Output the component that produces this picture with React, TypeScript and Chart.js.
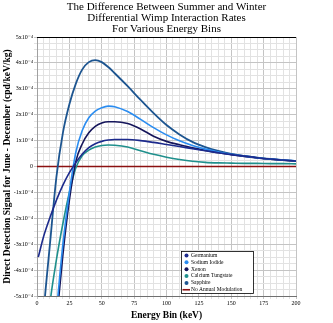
import React, { useEffect, useRef } from "react";
import { Chart, registerables } from "chart.js";

Chart.register(...registerables);

// Energy bins (keV)
const ENERGY = [1, 5, 10, 15, 20, 25, 30, 35, 40, 45, 50, 55, 60, 70, 80, 90, 100, 110, 120, 130, 140, 150, 160, 170, 180, 190, 200];

// Signal values in units of 1x10^-4 cpd/keV/kg
const GERMANIUM = [-3.5, -2.72, -1.97, -1.3, -0.72, -0.24, 0.15, 0.48, 0.73, 0.88, 0.97, 1.02, 1.04, 1.04, 1.0, 0.93, 0.85, 0.77, 0.69, 0.61, 0.53, 0.46, 0.4, 0.34, 0.29, 0.25, 0.21];
const SODIUM_IODIDE = [-14, -11, -8, -5.6, -3.0, -1.0, 0.55, 1.4, 1.88, 2.14, 2.27, 2.33, 2.31, 2.12, 1.82, 1.5, 1.22, 0.99, 0.81, 0.67, 0.56, 0.47, 0.4, 0.34, 0.29, 0.25, 0.22];
const XENON = [-16, -12.5, -9, -6.0, -3.4, -1.3, 0.2, 0.88, 1.3, 1.55, 1.68, 1.73, 1.73, 1.66, 1.45, 1.17, 0.97, 0.84, 0.72, 0.62, 0.53, 0.46, 0.39, 0.33, 0.28, 0.24, 0.2];
const CALCIUM_TUNGSTATE = [-10, -8, -5.3, -3.6, -2.2, -1.0, -0.05, 0.42, 0.63, 0.75, 0.81, 0.83, 0.82, 0.75, 0.61, 0.47, 0.36, 0.27, 0.2, 0.16, 0.14, 0.13, 0.12, 0.12, 0.11, 0.11, 0.1];
const SAPPHIRE = [-8.5, -5.7, -3.0, -0.4, 1.3, 2.4, 3.2, 3.75, 4.03, 4.11, 4.03, 3.84, 3.6, 3.1, 2.57, 2.06, 1.6, 1.24, 0.95, 0.75, 0.6, 0.49, 0.41, 0.34, 0.29, 0.25, 0.22];
const BASELINE_X = [0, 200];
const BASELINE_Y = [0, 0];

const X_TICK_LABELS = [0, 25, 50, 75, 100, 125, 150, 175, 200];
const Y_TICK_LABELS = [-5, -4, -3, -2, -1, 0, 1, 2, 3, 4, 5];

const SERIES = [
  { label: "Germanium", values: GERMANIUM, color: "#1c2a8c", width: 1.6 },
  { label: "Sodium Iodide", values: SODIUM_IODIDE, color: "#2a8cf0", width: 1.6 },
  { label: "Xenon", values: XENON, color: "#15155a", width: 1.6 },
  { label: "Calcium Tungstate", values: CALCIUM_TUNGSTATE, color: "#1f8f8c", width: 1.6 },
  { label: "Sapphire", values: SAPPHIRE, color: "#1d5590", width: 1.8 },
];

const SERIF = "'Liberation Serif', 'DejaVu Serif', serif";
const SUP = "x10\u207B\u2074";

function isNear(v: number, list: number[]) {
  return list.some((t) => Math.abs(t - v) < 1e-6);
}

const innerLegend = {
  id: "innerLegend",
  afterDraw(chart: any) {
    const { ctx, chartArea } = chart;
    const left = chartArea.right - 115;
    const top = chartArea.bottom - 45;
    const w = 72;
    const h = 42;
    ctx.save();
    ctx.fillStyle = "#ffffff";
    ctx.fillRect(left, top, w, h);
    ctx.strokeStyle = "#000000";
    ctx.lineWidth = 0.8;
    ctx.strokeRect(left + 0.5, top + 0.5, w, h);
    ctx.font = `5.5px ${SERIF}`;
    ctx.textBaseline = "middle";
    ctx.fillStyle = "#000";
    const ds = chart.data.datasets;
    ds.forEach((d: any, i: number) => {
      const y = top + 4.5 + i * 6.85;
      if (d.isLine) {
        ctx.strokeStyle = d.borderColor;
        ctx.lineWidth = 1.6;
        ctx.beginPath();
        ctx.moveTo(left + 1.5, y);
        ctx.lineTo(left + 9, y);
        ctx.stroke();
      } else {
        ctx.fillStyle = d.borderColor;
        ctx.beginPath();
        ctx.arc(left + 5.5, y, 2, 0, Math.PI * 2);
        ctx.fill();
      }
      ctx.fillStyle = "#000";
      ctx.fillText(d.label, left + 10, y);
    });
    ctx.restore();
  },
};

const topBorder = {
  id: "topBorder",
  beforeDatasetsDraw(chart: any) {
    const { ctx, chartArea } = chart;
    ctx.save();
    ctx.strokeStyle = "#000";
    ctx.lineWidth = 1;
    ctx.beginPath();
    ctx.moveTo(chartArea.left, chartArea.top + 0.5);
    ctx.lineTo(chartArea.right, chartArea.top + 0.5);
    ctx.stroke();
    ctx.restore();
  },
};

export default function App() {
  const ref = useRef<HTMLCanvasElement | null>(null);
  useEffect(() => {
    if (!ref.current) return;
    const datasets: any[] = SERIES.map((s) => ({
      label: s.label,
      data: ENERGY.map((x, i) => ({ x, y: s.values[i] })),
      borderColor: s.color,
      backgroundColor: s.color,
      borderWidth: s.width,
      pointRadius: 0,
      tension: 0.4,
      cubicInterpolationMode: "monotone",
      fill: false,
    }));
    datasets.push({
      label: "No Annual Modulation",
      isLine: true,
      data: BASELINE_X.map((x, i) => ({ x, y: BASELINE_Y[i] })),
      borderColor: "#8b1010",
      backgroundColor: "#8b1010",
      borderWidth: 1.6,
      pointRadius: 0,
      fill: false,
    });
    const chart = new Chart(ref.current, {
      type: "line",
      data: { datasets },
      plugins: [topBorder, innerLegend],
      options: {
        animation: false,
        responsive: false,
        devicePixelRatio: 1,
        layout: { padding: 0 },
        plugins: {
          legend: { display: false },
          tooltip: { enabled: false },
          title: {
            display: true,
            text: [
              "The Difference Between Summer and Winter",
              "Differential Wimp Interaction Rates",
              "For Various Energy Bins",
            ],
            color: "#000",
            font: { family: SERIF, size: 11, weight: "normal", lineHeight: 1 },
            padding: { top: 2, bottom: 2 },
          },
        },
        scales: {
          x: {
            type: "linear",
            min: 0,
            max: 200,
            afterFit: (scale: any) => {
              scale.height = 27;
            },
            ticks: {
              stepSize: 5,
              autoSkip: false,
              maxRotation: 0,
              padding: 1,
              color: "#000",
              font: { family: SERIF, size: 6 },
              callback: (v: any) => (isNear(Number(v), X_TICK_LABELS) ? String(Math.round(Number(v))) : ""),
            },
            grid: {
              color: (c: any) => (c.tick && isNear(c.tick.value, X_TICK_LABELS) ? "#c4c4c4" : "#e2e2e2"),
              tickLength: 3,
              lineWidth: 1,
            },
            border: { color: "#707070" },
            title: {
              display: true,
              text: "Energy Bin (keV)",
              color: "#000",
              font: { family: SERIF, size: 9.5, weight: "bold" },
              padding: { top: 0, bottom: 2 },
            },
          },
          y: {
            type: "linear",
            min: -5,
            max: 5,
            afterFit: (scale: any) => {
              scale.width = 37;
            },
            ticks: {
              stepSize: 0.25,
              autoSkip: false,
              padding: 1,
              color: "#000",
              font: { family: SERIF, size: 6 },
              callback: (v: any) => {
                const n = Number(v);
                if (!isNear(n, Y_TICK_LABELS)) return "";
                const r = Math.round(n);
                return r === 0 ? "0" : `${r}${SUP}`;
              },
            },
            grid: {
              color: (c: any) => (c.tick && isNear(c.tick.value, Y_TICK_LABELS) ? "#c4c4c4" : "#e2e2e2"),
              tickLength: 3,
              lineWidth: 1,
            },
            border: { color: "#a0a0a0" },
            title: {
              display: true,
              text: "Direct Detection Signal for June - December (cpd/keV/kg)",
              color: "#000",
              font: { family: SERIF, size: 9.5, weight: "bold" },
              padding: { top: 2, bottom: 0 },
            },
          },
          yRight: {
            type: "linear",
            position: "right",
            min: -5,
            max: 5,
            afterFit: (scale: any) => {
              scale.width = 37;
            },
            ticks: { display: false },
            grid: { display: false, drawTicks: false },
            border: { display: false },
          },
        },
      } as any,
    });
    return () => chart.destroy();
  }, []);
  return (
    <div style={{ position: "fixed", left: 0, top: 0, width: 333, height: 323, background: "#fff" }}>
      <canvas ref={ref} width={333} height={323} style={{ display: "block", width: 333, height: 323 }} />
    </div>
  );
}
